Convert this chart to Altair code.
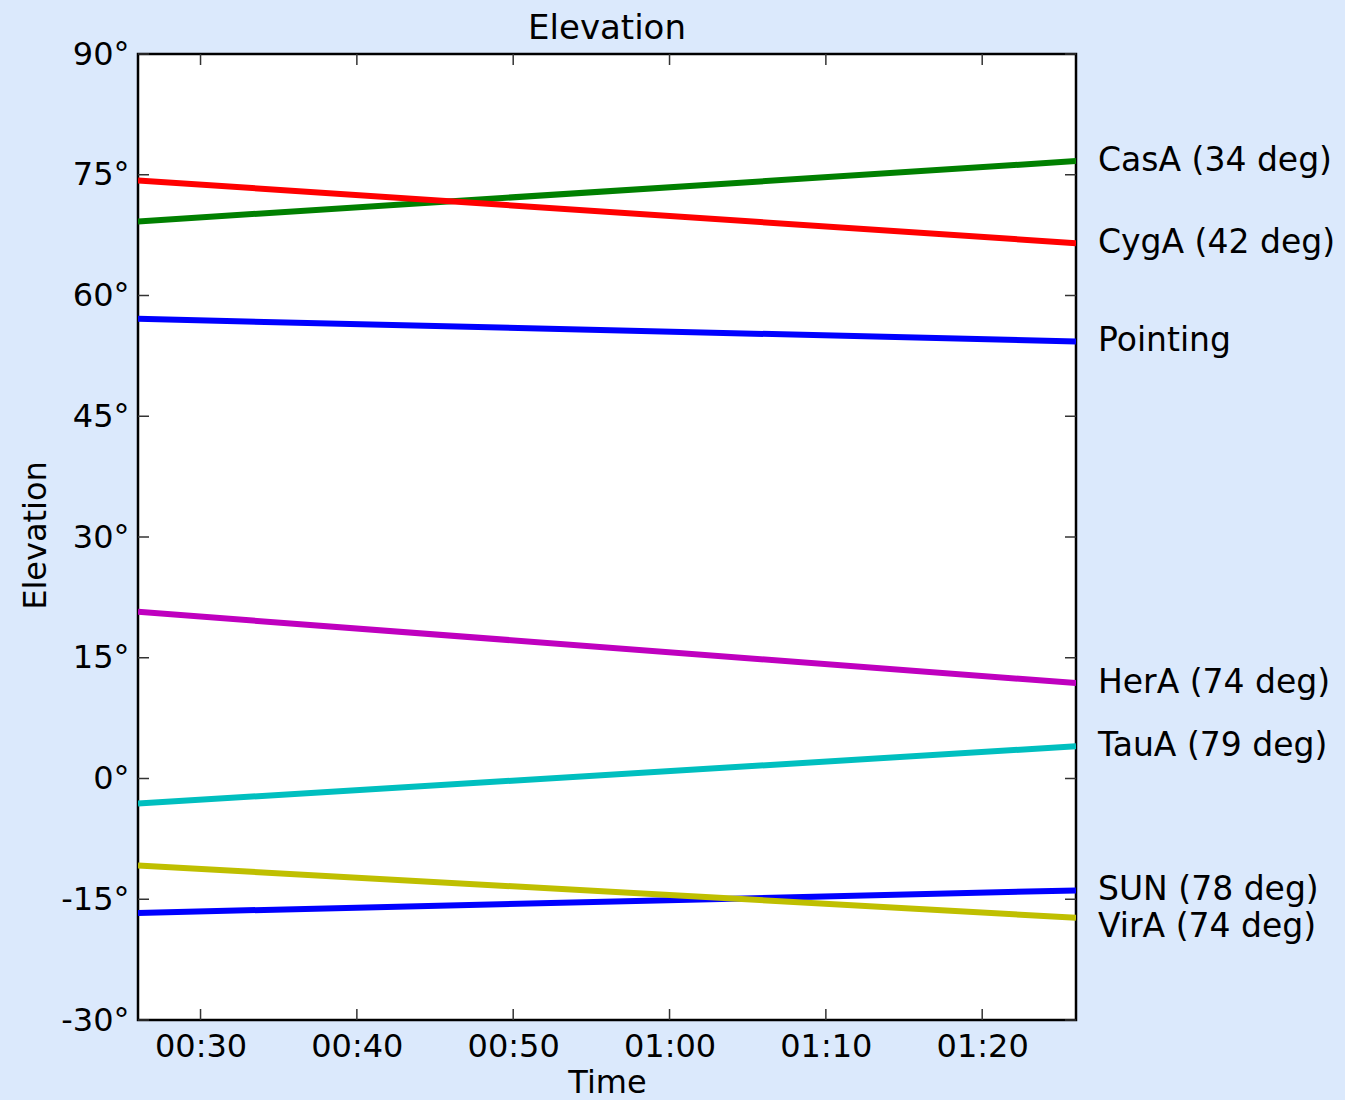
import altair as alt
import pandas as pd

# ---- data ----
names = ["CasA", "CygA", "Pointing", "HerA", "TauA", "SUN", "VirA"]
labels = ["CasA (34 deg)", "CygA (42 deg)", "Pointing", "HerA (74 deg)",
          "TauA (79 deg)", "SUN (78 deg)", "VirA (74 deg)"]
colors = ["#008000", "#ff0000", "#0000ff", "#bf00bf", "#00bfbf", "#0000ff", "#bfbf00"]
t_start = 26   # minutes after 00:00
t_end = 86
elev_start = [69.2, 74.3, 57.1, 20.7, -3.1, -16.7, -10.8]
elev_end = [76.7, 66.5, 54.3, 11.85, 4.0, -13.9, -17.3]
label_elev = [76.7, 66.5, 54.3, 11.85, 4.0, -13.9, -18.4]

x_tick_values = [30, 40, 50, 60, 70, 80]
x_tick_labels = ["00:30", "00:40", "00:50", "01:00", "01:10", "01:20"]
y_tick_values = [-30, -15, 0, 15, 30, 45, 60, 75, 90]
title_text = "Elevation"

# ---- layout ----
W, H = 938, 966
FONT = "DejaVu Sans"
BG = "#dbe9fc"
TICK = 11

rows = []
for n, a, b in zip(names, elev_start, elev_end):
    rows.append({"name": n, "t": t_start, "elev": a})
    rows.append({"name": n, "t": t_end, "elev": b})
df = pd.DataFrame(rows)
df_lab = pd.DataFrame({"name": names, "label": labels, "t": [t_end] * len(names), "elev": label_elev})
df_xt = pd.DataFrame({"t": x_tick_values})
df_yt = pd.DataFrame({"elev": y_tick_values})
df_title = pd.DataFrame({"title": [title_text]})

label_expr = " : ".join(f"datum.value == {v} ? '{l}'" for v, l in zip(x_tick_values, x_tick_labels)) + " : ''"

xscale = alt.Scale(domain=[t_start, t_end], nice=False, zero=False)
yscale = alt.Scale(domain=[-30, 90], nice=False, zero=False)
cscale = alt.Scale(domain=names, range=colors)

lines = alt.Chart(df).mark_line(strokeWidth=6, clip=True).encode(
    x=alt.X("t:Q", scale=xscale, title="Time",
            axis=alt.Axis(values=x_tick_values, labelExpr=label_expr, ticks=False, domain=False,
                          grid=False, labelFont=FONT, labelFontSize=32, labelColor="black",
                          labelPadding=11, titleFont=FONT, titleFontSize=32, titleFontWeight="normal",
                          titleColor="black", titleY=72, titleBaseline="alphabetic")),
    y=alt.Y("elev:Q", scale=yscale, title="Elevation",
            axis=alt.Axis(values=y_tick_values, labelExpr="datum.value + '°'", ticks=False, domain=False,
                          grid=False, labelFont=FONT, labelFontSize=32, labelColor="black",
                          labelPadding=9, labelBaseline="middle",
                          titleFont=FONT, titleFontSize=32, titleFontWeight="normal",
                          titleColor="black", titleX=-93, titleY=481, titleAlign="center",
                          titleBaseline="alphabetic", titleAngle=270)),
    color=alt.Color("name:N", scale=cscale, legend=None),
    detail="name:N",
)

texts = alt.Chart(df_lab).mark_text(align="left", baseline="middle", dx=22, font=FONT,
                                    fontSize=33, color="black").encode(
    x=alt.X("t:Q", scale=xscale),
    y=alt.Y("elev:Q", scale=yscale),
    text="label:N",
)

title = alt.Chart(df_title).mark_text(align="center", baseline="alphabetic", font=FONT,
                                      fontSize=34, color="black").encode(
    x=alt.value(W / 2), y=alt.value(-15), text="title:N")

tick_style = dict(color="#333333", strokeWidth=1.5)
xt_bottom = alt.Chart(df_xt).mark_rule(**tick_style).encode(
    x=alt.X("t:Q", scale=xscale), y=alt.value(H), y2=alt.value(H - TICK))
xt_top = alt.Chart(df_xt).mark_rule(**tick_style).encode(
    x=alt.X("t:Q", scale=xscale), y=alt.value(0), y2=alt.value(TICK))
yt_left = alt.Chart(df_yt).mark_rule(**tick_style).encode(
    y=alt.Y("elev:Q", scale=yscale), x=alt.value(0), x2=alt.value(TICK))
yt_right = alt.Chart(df_yt).mark_rule(**tick_style).encode(
    y=alt.Y("elev:Q", scale=yscale), x=alt.value(W - TICK), x2=alt.value(W))

chart = alt.layer(lines, xt_bottom, xt_top, yt_left, yt_right, texts, title).properties(
    width=W, height=H,
    background=BG,
    autosize=alt.AutoSizeParams(type="none"),
    padding={"left": 138, "top": 54, "right": 269, "bottom": 80},
).configure_view(
    fill="white", stroke="black", strokeWidth=2.5
)

chart.save("out.html", embed_options={"renderer": "svg", "actions": False})
